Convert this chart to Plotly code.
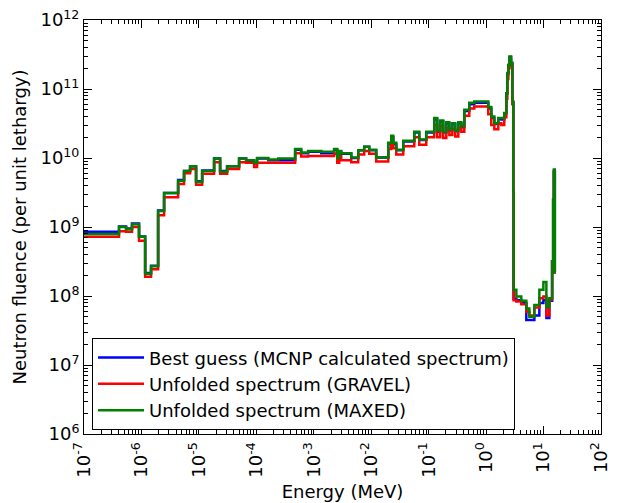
import plotly.graph_objects as go

# Energy bin lower edges (MeV); last value is the upper edge of the final bin
energy_edges = [
    1.00e-7, 4.07e-7, 5.40e-7, 6.85e-7, 9.08e-7, 1.16e-6, 1.47e-6, 1.95e-6, 2.48e-6, 4.35e-6,
    5.52e-6, 7.03e-6, 8.93e-6, 1.14e-5, 1.84e-5, 2.34e-5, 3.10e-5, 5.01e-5, 6.64e-5, 9.16e-5,
    1.03e-4, 1.61e-4, 2.40e-4, 4.74e-4, 6.03e-4, 7.98e-4, 1.35e-3, 2.26e-3, 2.56e-3, 2.77e-3,
    3.00e-3, 4.49e-3, 5.94e-3, 7.55e-3, 9.23e-3, 1.22e-2, 1.98e-2, 2.23e-2, 2.42e-2, 2.73e-2,
    3.61e-2, 5.61e-2, 6.85e-2, 9.08e-2, 0.125, 0.141, 0.159, 0.179, 0.203, 0.229,
    0.258, 0.290, 0.328, 0.370, 0.417, 0.509, 0.622, 1.09, 1.23, 1.39,
    1.63, 1.84, 2.07, 2.25, 2.34, 2.44, 2.56, 2.72, 2.86, 2.98,
    3.01, 3.36, 4.10, 5.01, 5.66, 6.92, 8.45, 9.93, 11.2, 12.6,
    14.1, 14.7, 15.1, 15.7, 16.4,
]

best_guess = [
    8.5e8, 1.02e9, 9.5e8, 1.12e9, 7.3e8, 2.15e8, 2.75e8, 1.74e9, 3.1e9, 4.8e9,
    6.5e9, 7.6e9, 4.6e9, 6.6e9, 9.8e9, 6.5e9, 7.6e9, 9.8e9, 9.1e9, 8.3e9,
    9.8e9, 9.3e9, 9.3e9, 1.32e10, 1.17e10, 1.23e10, 1.17e10, 1.32e10, 1.0e10, 1.23e10,
    1.15e10, 1.0e10, 1.29e10, 1.45e10, 1.29e10, 1.02e10, 1.62e10, 2.0e10, 1.58e10, 1.29e10,
    1.74e10, 2.35e10, 1.82e10, 2.35e10, 3.6e10, 2.4e10, 3.4e10, 2.35e10, 3.2e10, 2.5e10,
    3.1e10, 2.45e10, 3.2e10, 2.8e10, 4.8e10, 6.0e10, 6.3e10, 5.2e10, 3.8e10, 3.1e10,
    3.7e10, 3.6e10, 4.4e10, 8.5e10, 1.65e11, 2.2e11, 2.9e11, 2.35e11, 6.4e10, 3.4e9,
    9.1e7, 8.7e7, 7.9e7, 4.5e7, 4.5e7, 5.2e7, 7.9e7, 8.7e7, 4.8e7, 8.5e7,
    3.2e8, 2.5e9, 6.5e9, 2.2e8,
]

gravel = [
    7.2e8, 8.7e8, 8.5e8, 1.0e9, 6.3e8, 1.9e8, 2.45e8, 1.48e9, 2.7e9, 4.2e9,
    6.0e9, 6.9e9, 4.1e9, 5.9e9, 8.7e9, 5.9e9, 6.9e9, 8.7e9, 8.5e9, 7.4e9,
    8.5e9, 8.5e9, 8.5e9, 1.17e10, 1.05e10, 1.07e10, 1.07e10, 1.15e10, 8.5e9, 1.07e10,
    9.3e9, 8.7e9, 1.12e10, 1.26e10, 1.15e10, 8.9e9, 1.35e10, 1.66e10, 1.38e10, 1.12e10,
    1.48e10, 2.0e10, 1.55e10, 2.0e10, 3.0e10, 2.0e10, 2.9e10, 1.95e10, 2.7e10, 2.15e10,
    2.6e10, 2.05e10, 2.75e10, 2.4e10, 4.1e10, 5.2e10, 5.6e10, 4.3e10, 3.0e10, 2.6e10,
    3.2e10, 3.0e10, 3.9e10, 7.2e10, 1.4e11, 2.0e11, 2.6e11, 2.2e11, 6.0e10, 3.4e9,
    8.7e7, 8.3e7, 7.6e7, 5.9e7, 5.2e7, 6.8e7, 9.3e7, 9.8e7, 5.2e7, 8.9e7,
    3.2e8, 2.5e9, 6.2e9, 2.2e8,
]

maxed = [
    7.9e8, 1.0e9, 9.3e8, 1.10e9, 7.2e8, 2.1e8, 2.7e8, 1.7e9, 3.1e9, 4.7e9,
    6.5e9, 7.6e9, 4.5e9, 6.5e9, 9.8e9, 6.3e9, 7.6e9, 9.8e9, 9.3e9, 8.5e9,
    1.0e10, 9.5e9, 9.8e9, 1.35e10, 1.2e10, 1.26e10, 1.23e10, 1.35e10, 1.0e10, 1.26e10,
    1.17e10, 1.02e10, 1.29e10, 1.45e10, 1.32e10, 1.02e10, 1.66e10, 2.1e10, 1.66e10, 1.32e10,
    1.78e10, 2.4e10, 1.86e10, 2.4e10, 3.8e10, 2.5e10, 3.5e10, 2.4e10, 3.3e10, 2.6e10,
    3.2e10, 2.5e10, 3.3e10, 2.9e10, 5.0e10, 6.3e10, 6.6e10, 5.5e10, 4.0e10, 3.2e10,
    3.8e10, 3.8e10, 4.5e10, 8.7e10, 1.7e11, 2.24e11, 2.95e11, 2.4e11, 6.6e10, 3.4e9,
    1.23e8, 9.8e7, 8.5e7, 6.6e7, 5.0e7, 7.4e7, 1.23e8, 1.6e8, 6.9e7, 9.3e7,
    3.2e8, 2.5e9, 6.8e9, 2.2e8,
]

series_names = [
    "Best guess (MCNP calculated spectrum)",
    "Unfolded spectrum (GRAVEL)",
    "Unfolded spectrum (MAXED)",
]
series_colors = ["#0000ff", "#ff0000", "#008000"]

x_tick_exps = list(range(-7, 3))
y_tick_exps = list(range(6, 13))

FONT = "DejaVu Sans"

fig = go.Figure()
for name, vals, color in zip(series_names, [best_guess, gravel, maxed], series_colors):
    fig.add_trace(go.Scatter(
        x=energy_edges,
        y=vals + [vals[-1]],
        mode="lines",
        line=dict(color=color, width=2.5, shape="hv"),
        name=name,
    ))

def minor_vals(lo, hi):
    return [m * 10.0 ** e for e in range(lo, hi) for m in range(2, 10)]

axis_common = dict(
    showline=True, linecolor="black", linewidth=1, mirror="allticks",
    ticks="inside", ticklen=8, tickwidth=1, tickcolor="black",
    showgrid=False, zeroline=False, automargin=False,
    ticklabeloverflow="allow",
    tickfont=dict(family=FONT, size=18, color="black"),
)

fig.update_xaxes(
    type="log", range=[-7, 2],
    tickmode="array",
    tickvals=[10.0 ** e for e in x_tick_exps],
    ticktext=[f"10<sup>{e}</sup>" for e in x_tick_exps],
    tickangle=-90,
    minor=dict(tickmode="array", tickvals=minor_vals(-7, 2), ticks="inside",
               ticklen=4, tickcolor="black", showgrid=False),
    title=dict(text="Energy (MeV)", font=dict(family=FONT, size=18, color="black"), standoff=8),
    **axis_common,
)
fig.update_yaxes(
    type="log", range=[6, 12],
    tickmode="array",
    tickvals=[10.0 ** e for e in y_tick_exps],
    ticktext=[f"10<sup>{e}</sup>" for e in y_tick_exps],
    minor=dict(tickmode="array", tickvals=minor_vals(6, 12), ticks="inside",
               ticklen=4, tickcolor="black", showgrid=False),
    title=dict(text="Neutron fluence (per unit lethargy)", font=dict(family=FONT, size=18, color="black"), standoff=9),
    **axis_common,
)

fig.update_layout(
    width=627, height=503,
    margin=dict(l=84, r=26, t=20, b=69),
    paper_bgcolor="white", plot_bgcolor="white",
    font=dict(family=FONT, color="black"),
    legend=dict(
        x=0.0155, y=0.009, xanchor="left", yanchor="bottom",
        bgcolor="white", bordercolor="black", borderwidth=1,
        font=dict(family=FONT, size=18, color="black"),
        itemwidth=46, tracegroupgap=0,
    ),
)

# remove the default page margin so the figure starts at the window's corner
fig.write_html(
    "out.html",
    config={"displayModeBar": False},
    post_script="document.body.style.margin='0';",
)
